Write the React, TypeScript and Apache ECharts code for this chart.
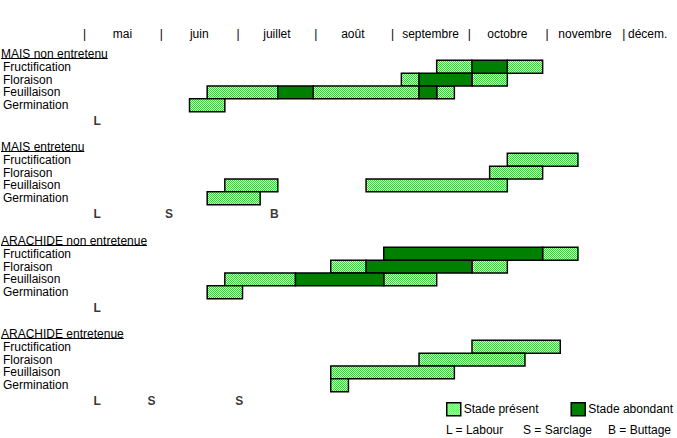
import React, { useEffect, useRef } from "react";
import * as echarts from "echarts";

// ---- tick labels (x axis in weeks, 0 = start of May) ----
const months = ["mai", "juin", "juillet", "août", "septembre", "octobre", "novembre", "décem."];
const monthLabelWeeks = [2.2, 6.55, 10.95, 15.25, 19.65, 24.0, 28.4, 31.95];
const monthSeparatorWeeks = [0.05, 4.4, 8.75, 13.15, 17.5, 21.85, 26.25, 30.6];

// ---- categories ----
const stages = ["Fructification", "Floraison", "Feuillaison", "Germination"];
const blockTitles = ["MAIS non entretenu", "MAIS entretenu", "ARACHIDE non entretenue", "ARACHIDE entretenue"];
const seriesNames = ["Stade présent", "Stade abondant"];

// ---- series values: [stage, start week, end week] ----
const maisNonEntretenuPresent = [
  ["Fructification", 20, 22], ["Fructification", 24, 26],
  ["Floraison", 18, 19], ["Floraison", 22, 24],
  ["Feuillaison", 7, 11], ["Feuillaison", 13, 19], ["Feuillaison", 20, 21],
  ["Germination", 6, 8],
];
const maisNonEntretenuAbondant = [
  ["Fructification", 22, 24],
  ["Floraison", 19, 22],
  ["Feuillaison", 11, 13], ["Feuillaison", 19, 20],
];
const maisEntretenuPresent = [
  ["Fructification", 24, 28],
  ["Floraison", 23, 26],
  ["Feuillaison", 8, 11], ["Feuillaison", 16, 24],
  ["Germination", 7, 10],
];
const maisEntretenuAbondant: any[] = [];
const arachideNonEntretenuePresent = [
  ["Fructification", 26, 28],
  ["Floraison", 14, 16], ["Floraison", 22, 24],
  ["Feuillaison", 8, 12], ["Feuillaison", 17, 20],
  ["Germination", 7, 9],
];
const arachideNonEntretenueAbondant = [
  ["Fructification", 17, 26],
  ["Floraison", 16, 22],
  ["Feuillaison", 12, 17],
];
const arachideEntretenuePresent = [
  ["Fructification", 22, 27],
  ["Floraison", 19, 25],
  ["Feuillaison", 14, 21],
  ["Germination", 14, 15],
];
const arachideEntretenueAbondant: any[] = [];

// ---- cultural operations: [code, week] ----
const maisNonEntretenuOps = [["L", 0.77]];
const maisEntretenuOps = [["L", 0.77], ["S", 4.84], ["B", 10.8]];
const arachideNonEntretenueOps = [["L", 0.77]];
const arachideEntretenueOps = [["L", 0.77], ["S", 3.84], ["S", 8.82]];
const opsKey = ["L = Labour", "S = Sarclage", "B = Buttage"];

const presentByBlock = [maisNonEntretenuPresent, maisEntretenuPresent, arachideNonEntretenuePresent, arachideEntretenuePresent];
const abondantByBlock = [maisNonEntretenuAbondant, maisEntretenuAbondant, arachideNonEntretenueAbondant, arachideEntretenueAbondant];
const opsByBlock = [maisNonEntretenuOps, maisEntretenuOps, arachideNonEntretenueOps, arachideEntretenueOps];

// ---- layout ----
const FONT = "Arial, 'Liberation Sans', sans-serif";
const GRID_LEFT = 82.1;
const WEEK_PX = 17.7;
const X_MAX = 33;
const ROW_H = 12.85;
const BLOCK_TOPS = [60.3, 153.3, 247.3, 340.3];
const OPS_CAT = "ops";

function makePattern() {
  const c = document.createElement("canvas");
  c.width = 2;
  c.height = 2;
  const ctx = c.getContext("2d")!;
  ctx.fillStyle = "#ffffff";
  ctx.fillRect(0, 0, 2, 2);
  ctx.fillStyle = "#00ff00";
  ctx.fillRect(0, 0, 1, 1);
  ctx.fillRect(1, 1, 1, 1);
  return { image: c.toDataURL(), repeat: "repeat", imageWidth: 2, imageHeight: 2 } as any;
}

function measure(text: string, font: string) {
  const c = document.createElement("canvas");
  const ctx = c.getContext("2d")!;
  ctx.font = font;
  return ctx.measureText(text).width;
}

export default function App() {
  const ref = useRef<HTMLDivElement>(null);
  useEffect(() => {
    if (!ref.current) return;
    const chart = echarts.init(ref.current, null, { renderer: "svg" });
    const light = makePattern();
    const dark = "#008000";

    const render = (fill: any) => (params: any, api: any) => {
      const y = api.value(0);
      const a = api.coord([api.value(1), y]);
      const b = api.coord([api.value(2), y]);
      const h = api.size([0, 1])[1];
      return {
        type: "rect",
        shape: { x: a[0], y: a[1] - h / 2, width: b[0] - a[0], height: h },
        style: { fill, stroke: "#000", lineWidth: 1.5 },
      };
    };

    const grids = BLOCK_TOPS.map((top) => ({
      left: GRID_LEFT,
      top,
      width: X_MAX * WEEK_PX,
      height: ROW_H * 5,
      containLabel: false,
    }));

    const xAxes: any[] = BLOCK_TOPS.map((_, i) => ({
      type: "value",
      gridIndex: i,
      min: 0,
      max: X_MAX,
      show: false,
    }));
    // month names header
    xAxes.push({
      type: "value",
      gridIndex: 0,
      min: 0,
      max: X_MAX,
      position: "top",
      offset: 26.3,
      axisLine: { show: false },
      axisTick: { show: false },
      splitLine: { show: false },
      axisLabel: {
        customValues: monthLabelWeeks,
        margin: 0,
        verticalAlign: "middle",
        color: "#000",
        fontSize: 12,
        fontFamily: FONT,
        formatter: (v: number) => {
          const i = monthLabelWeeks.findIndex((w) => Math.abs(w - v) < 1e-6);
          return i >= 0 ? months[i] : "";
        },
      },
    });
    // separators header
    xAxes.push({
      type: "value",
      gridIndex: 0,
      min: 0,
      max: X_MAX,
      position: "top",
      offset: 26.3,
      axisLine: { show: false },
      axisTick: { show: false },
      splitLine: { show: false },
      axisLabel: {
        customValues: monthSeparatorWeeks,
        margin: 0,
        verticalAlign: "middle",
        color: "#000",
        fontSize: 12,
        fontFamily: FONT,
        formatter: () => "|",
      },
    });

    const yAxes = BLOCK_TOPS.map((_, i) => ({
      type: "category",
      gridIndex: i,
      inverse: true,
      data: [...stages, OPS_CAT],
      axisLine: { show: false },
      axisTick: { show: false },
      splitLine: { show: false },
      axisLabel: {
        interval: 0,
        align: "left",
        margin: GRID_LEFT - 1.5,
        color: "#000",
        fontSize: 12,
        lineHeight: 12,
        fontFamily: FONT,
        padding: [2, 0, 0, 0],
        formatter: (v: string) => (v === OPS_CAT ? "" : v),
      },
    }));

    const toRows = (arr: any[]) => arr.map(([st, s, e]) => [stages.indexOf(st), s, e]);

    const series: any[] = [];
    BLOCK_TOPS.forEach((_, i) => {
      series.push({
        type: "custom",
        name: seriesNames[0],
        xAxisIndex: i,
        yAxisIndex: i,
        encode: { x: [1, 2], y: 0 },
        renderItem: render(light),
        itemStyle: { color: light, borderColor: "#000", borderWidth: 1.5 },
        data: toRows(presentByBlock[i]),
        silent: true,
      });
      series.push({
        type: "custom",
        name: seriesNames[1],
        xAxisIndex: i,
        yAxisIndex: i,
        encode: { x: [1, 2], y: 0 },
        renderItem: render(dark),
        itemStyle: { color: dark, borderColor: "#000", borderWidth: 1.5 },
        data: toRows(abondantByBlock[i]),
        silent: true,
      });
      series.push({
        type: "scatter",
        name: "ops" + i,
        xAxisIndex: i,
        yAxisIndex: i,
        symbolSize: 1,
        itemStyle: { color: "rgba(0,0,0,0)" },
        silent: true,
        label: {
          show: true,
          position: "inside",
          formatter: "{b}",
          fontWeight: "bold",
          fontSize: 12,
          fontFamily: FONT,
          color: "#000",
          offset: [0, 3],
        },
        data: opsByBlock[i].map(([code, w]) => ({ name: code, value: [w, stages.length] })),
      });
    });

    const titleFont = `12px ${FONT}`;
    const graphics: any[] = [];
    blockTitles.forEach((t, i) => {
      const top = BLOCK_TOPS[i];
      graphics.push({
        type: "text",
        x: 1,
        y: top - 6.5,
        silent: true,
        style: { text: t, font: titleFont, lineHeight: 12, fill: "#000", align: "left", verticalAlign: "middle" },
      });
      const w = measure(t, titleFont);
      const uy = Math.round(top - 1) - 0.5;
      graphics.push({
        type: "line",
        silent: true,
        shape: { x1: 1, y1: uy, x2: 1 + w, y2: uy },
        style: { stroke: "#000", lineWidth: 1 },
      });
    });
    const keyX = [446, 523, 608];
    opsKey.forEach((t, i) => {
      graphics.push({
        type: "text",
        x: keyX[i],
        y: 430,
        silent: true,
        style: { text: t, font: titleFont, fill: "#000", align: "left", verticalAlign: "middle" },
      });
    });

    chart.setOption({
      animation: false,
      backgroundColor: "#fff",
      textStyle: { fontFamily: FONT },
      grid: grids,
      xAxis: xAxes,
      yAxis: yAxes,
      legend: {
        left: 446,
        top: 402,
        padding: 0,
        itemWidth: 14,
        itemHeight: 13,
        itemGap: 32,
        icon: "rect",
        selectedMode: false,
        textStyle: { fontSize: 12, color: "#000", fontFamily: FONT, padding: [0, 0, 0, -2] },
        data: [
          { name: seriesNames[0], itemStyle: { color: light, borderColor: "#000", borderWidth: 1.5 } },
          { name: seriesNames[1], itemStyle: { color: dark, borderColor: "#000", borderWidth: 1.5 } },
        ],
      },
      graphic: graphics,
      series,
    });
    return () => chart.dispose();
  }, []);
  return (
    <div
      ref={ref}
      style={{ position: "fixed", left: 0, top: 0, width: 677, height: 438, background: "#fff" }}
    />
  );
}
